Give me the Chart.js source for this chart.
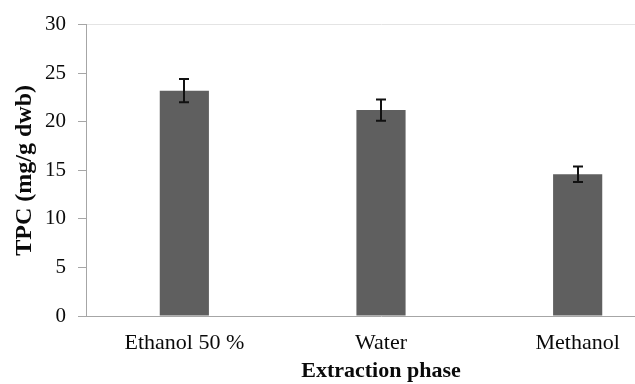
<!DOCTYPE html>
<html>
<head>
<meta charset="utf-8">
<script src="https://cdn.jsdelivr.net/npm/chart.js@4"></script>
<style>
  html, body { margin: 0; padding: 0; background: #fff; overflow: hidden; }
  #wrap { width: 635px; height: 384px; overflow: hidden; }
  canvas { display: block; }
</style>
</head>
<body>
<div id="wrap">
  <canvas id="tpcChart" width="680" height="392"></canvas>
</div>
<script>
// data
const categories = ['Ethanol 50 %', 'Water', 'Methanol'];
const tpcValues = [23.2, 21.2, 14.6];
const tpcErrors = [1.2, 1.1, 0.8];
const yMin = 0;
const yMax = 30;
const yStep = 5;

const serif = "'Liberation Serif', 'Times New Roman', serif";

// draws the +/- error whiskers on top of each bar
const errorBars = {
  id: 'errorBars',
  afterDatasetsDraw(chart) {
    const ctx = chart.ctx;
    const meta = chart.getDatasetMeta(0);
    const yScale = chart.scales.y;
    ctx.save();
    ctx.strokeStyle = '#111';
    ctx.lineWidth = 2;
    meta.data.forEach((bar, i) => {
      const v = tpcValues[i];
      const e = tpcErrors[i];
      const x = Math.round(bar.x);
      const yHi = yScale.getPixelForValue(v + e);
      const yLo = yScale.getPixelForValue(v - e);
      ctx.beginPath();
      ctx.moveTo(x, yHi);
      ctx.lineTo(x, yLo);
      ctx.moveTo(x - 5, yHi);
      ctx.lineTo(x + 5, yHi);
      ctx.moveTo(x - 5, yLo);
      ctx.lineTo(x + 5, yLo);
      ctx.stroke();
    });
    ctx.restore();
  }
};

const ctx = document.getElementById('tpcChart').getContext('2d');
new Chart(ctx, {
  type: 'bar',
  data: {
    labels: categories,
    datasets: [{
      data: tpcValues,
      backgroundColor: '#5f5f5f',
      borderWidth: 0,
      barPercentage: 0.25,
      categoryPercentage: 1.0
    }]
  },
  options: {
    responsive: false,
    animation: false,
    layout: { padding: { top: 23, right: 4, left: 0, bottom: 0 } },
    plugins: {
      legend: { display: false },
      tooltip: { enabled: false }
    },
    scales: {
      x: {
        grid: { display: false },
        border: { display: true, color: '#a6a6a6', width: 1 },
        ticks: {
          color: '#0a0a0a',
          padding: 6,
          maxRotation: 0,
          font: { family: serif, size: 22 }
        },
        title: {
          display: true,
          text: 'Extraction phase',
          color: '#0a0a0a',
          padding: { top: 0, bottom: 7 },
          font: { family: serif, size: 22, weight: 'bold' }
        },
        afterFit(scale) { scale.height = 76; }
      },
      y: {
        min: yMin,
        max: yMax,
        ticks: {
          stepSize: yStep,
          color: '#0a0a0a',
          padding: 12,
          font: { family: serif, size: 21 }
        },
        grid: {
          drawTicks: true,
          tickLength: 8,
          tickColor: '#a6a6a6',
          color: c => (c.tick && c.tick.value === yMax) ? '#e4e4e4' : 'rgba(0,0,0,0)'
        },
        border: { display: true, color: '#a6a6a6', width: 1 },
        title: {
          display: true,
          text: 'TPC (mg/g dwb)',
          color: '#0a0a0a',
          padding: { top: 10, bottom: 0 },
          font: { family: serif, size: 24, weight: 'bold' }
        },
        afterFit(scale) { scale.width = 86; }
      }
    }
  },
  plugins: [errorBars]
});
</script>
</body>
</html>
